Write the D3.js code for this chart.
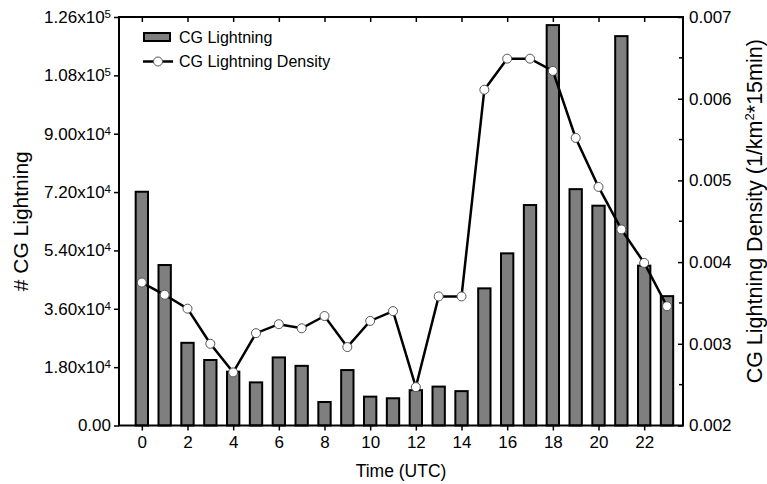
<!DOCTYPE html>
<html>
<head>
<meta charset="utf-8">
<script src="https://cdn.jsdelivr.net/npm/d3@7"></script>
<style>
  body { margin: 0; background: #fff; }
  svg { display: block; }
  text { font-family: "Liberation Sans", Arial, sans-serif; fill: #000; }
</style>
</head>
<body>
<div id="chart"></div>
<script>
// data
var hours = [0, 1, 2, 3, 4, 5, 6, 7, 8, 9, 10, 11, 12, 13, 14, 15, 16, 17, 18, 19, 20, 21, 22, 23];
var cgCounts = [72100, 49500, 25500, 20200, 16600, 13300, 21000, 18400, 7250, 17100, 8900, 8400,
                10900, 12000, 10600, 42300, 53100, 68000, 123500, 72900, 67800, 120100, 49300, 39900];
var cgDensity = [0.00375, 0.00360, 0.00343, 0.00300, 0.00265, 0.00313, 0.00324, 0.00319, 0.00334, 0.00296, 0.00328, 0.00340,
                 0.00247, 0.00358, 0.00358, 0.00611, 0.00649, 0.00649, 0.00634, 0.00552, 0.00492, 0.00440, 0.00399, 0.00346];
var xTickValues = [0, 2, 4, 6, 8, 10, 12, 14, 16, 18, 20, 22];
var leftTickValues = [0, 18000, 36000, 54000, 72000, 90000, 108000, 126000];
var leftTickLabels = [["0.00", ""], ["1.80x10", "4"], ["3.60x10", "4"], ["5.40x10", "4"],
                      ["7.20x10", "4"], ["9.00x10", "4"], ["1.08x10", "5"], ["1.26x10", "5"]];
var rightTickValues = [0.002, 0.003, 0.004, 0.005, 0.006, 0.007];
var rightTickLabels = ["0.002", "0.003", "0.004", "0.005", "0.006", "0.007"];
var rightMinorTicks = [0.0025, 0.0035, 0.0045, 0.0055, 0.0065];
var seriesNames = ["CG Lightning", "CG Lightning Density"];

var margin = {top: 17, right: 84, bottom: 58.5, left: 119},
    width = 767 - margin.left - margin.right,
    height = 484 - margin.top - margin.bottom;

var svg = d3.select("#chart")
  .append("svg")
    .attr("width", 767)
    .attr("height", 484)
  .append("g")
    .attr("transform", "translate(" + margin.left + "," + margin.top + ")");

var x = d3.scaleLinear().domain([-1, 23.7]).range([0, width]);
var yLeft = d3.scaleLinear().domain([0, 126000]).range([height, 0]);
var yRight = d3.scaleLinear().domain([0.002, 0.007]).range([height, 0]);

var barHalf = 0.27;
var barFill = "#7f7f7f";

// bars
svg.append("g")
  .selectAll("rect")
  .data(hours)
  .enter().append("rect")
    .attr("x", function(d) { return x(d - barHalf); })
    .attr("y", function(d, i) { return yLeft(cgCounts[i]); })
    .attr("width", function(d) { return x(d + barHalf) - x(d - barHalf); })
    .attr("height", function(d, i) { return yLeft(0) - yLeft(cgCounts[i]); })
    .attr("fill", barFill)
    .attr("stroke", "#000")
    .attr("stroke-width", 2);

// density line
var line = d3.line()
  .x(function(d) { return x(d); })
  .y(function(d, i) { return yRight(cgDensity[i]); });

svg.append("path")
  .datum(hours)
  .attr("fill", "none")
  .attr("stroke", "#000")
  .attr("stroke-width", 2.5)
  .attr("d", line);

svg.append("g")
  .selectAll("circle")
  .data(hours)
  .enter().append("circle")
    .attr("cx", function(d) { return x(d); })
    .attr("cy", function(d, i) { return yRight(cgDensity[i]); })
    .attr("r", 4.5)
    .attr("fill", "#fff")
    .attr("stroke", "#555")
    .attr("stroke-width", 1);

// axes
var tickFont = "17px";

var xAxis = svg.append("g")
  .attr("transform", "translate(0," + height + ")")
  .call(d3.axisBottom(x).tickValues(xTickValues).tickSize(5).tickSizeOuter(0).tickPadding(5.5));
xAxis.select(".domain").remove();
xAxis.selectAll("line").attr("stroke-width", 1.5);
xAxis.selectAll("text").attr("font-size", tickFont).attr("font-family", null);

var xTop = svg.append("g")
  .call(d3.axisTop(x).tickValues(xTickValues).tickSize(-5).tickSizeOuter(0).tickFormat(""));
xTop.select(".domain").remove();
xTop.selectAll("line").attr("stroke-width", 1.5);

var yAxisL = svg.append("g")
  .call(d3.axisLeft(yLeft).tickValues(leftTickValues).tickSize(5).tickSizeOuter(0).tickPadding(3));
yAxisL.select(".domain").remove();
yAxisL.selectAll("line").attr("stroke-width", 1.5);
yAxisL.selectAll("text")
  .attr("font-size", tickFont)
  .attr("font-family", null)
  .text("")
  .each(function(d, i) {
    var t = d3.select(this);
    t.append("tspan").text(leftTickLabels[i][0]);
    if (leftTickLabels[i][1]) {
      t.append("tspan").attr("dy", "-5").attr("font-size", "11.5px").text(leftTickLabels[i][1]);
    }
  });

var yAxisR = svg.append("g")
  .attr("transform", "translate(" + width + ",0)")
  .call(d3.axisRight(yRight).tickValues(rightTickValues).tickSize(-5).tickSizeOuter(0).tickPadding(6)
    .tickFormat(function(d, i) { return rightTickLabels[i]; }));
yAxisR.select(".domain").remove();
yAxisR.selectAll("line").attr("stroke-width", 1.5);
yAxisR.selectAll("text").attr("font-size", tickFont).attr("font-family", null);

svg.append("g")
  .attr("transform", "translate(" + width + ",0)")
  .selectAll("line")
  .data(rightMinorTicks)
  .enter().append("line")
    .attr("x1", 0).attr("x2", -4)
    .attr("y1", function(d) { return yRight(d); })
    .attr("y2", function(d) { return yRight(d); })
    .attr("stroke", "#000")
    .attr("stroke-width", 1.5);

// frame
svg.append("rect")
  .attr("width", width)
  .attr("height", height)
  .attr("fill", "none")
  .attr("stroke", "#000")
  .attr("stroke-width", 2);

// axis titles
svg.append("text")
  .attr("x", width / 2)
  .attr("y", height + 51.5)
  .attr("text-anchor", "middle")
  .attr("font-size", "17.5px")
  .text("Time (UTC)");

svg.append("text")
  .attr("transform", "translate(" + (-91) + "," + (height / 2) + ") rotate(-90)")
  .attr("text-anchor", "middle")
  .attr("font-size", "21px")
  .text("# CG Lightning");

var rTitle = svg.append("text")
  .attr("transform", "translate(" + (width + 79) + "," + (height / 2 - 10) + ") rotate(-90)")
  .attr("text-anchor", "middle")
  .attr("font-size", "21.5px");
rTitle.append("tspan").text("CG Lightning Density (1/km");
rTitle.append("tspan").attr("dy", "-8").attr("font-size", "13px").text("2");
rTitle.append("tspan").attr("dy", "8").text("*15min)");

// legend
var legend = svg.append("g")
  .attr("transform", "translate(" + (143 - margin.left) + "," + (32 - margin.top) + ")");

legend.append("rect")
  .attr("x", 1).attr("y", 1)
  .attr("width", 26).attr("height", 8)
  .attr("fill", barFill)
  .attr("stroke", "#000")
  .attr("stroke-width", 2);

legend.append("line")
  .attr("x1", 0).attr("x2", 30)
  .attr("y1", 29.5).attr("y2", 29.5)
  .attr("stroke", "#000")
  .attr("stroke-width", 2.5);

legend.append("circle")
  .attr("cx", 15).attr("cy", 29.5).attr("r", 4.5)
  .attr("fill", "#fff").attr("stroke", "#555").attr("stroke-width", 1);

legend.selectAll("text.leg")
  .data(seriesNames)
  .enter().append("text")
    .attr("class", "leg")
    .attr("x", 36)
    .attr("y", function(d, i) { return 11 + i * 23.5; })
    .attr("font-size", "16px")
    .text(function(d) { return d; });
</script>
</body>
</html>
